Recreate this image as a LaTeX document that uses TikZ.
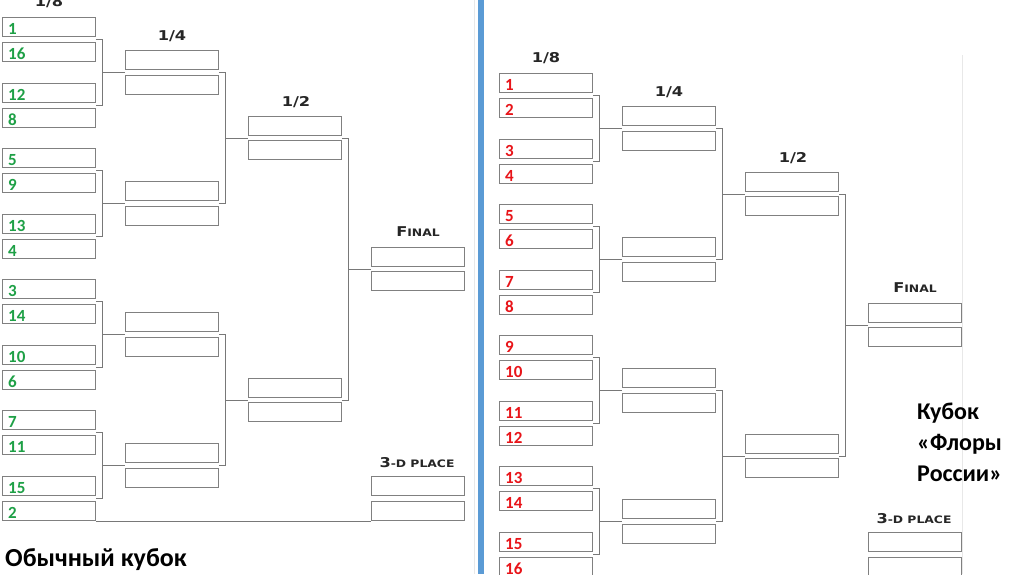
\documentclass[tikz,border=0pt]{standalone}
\usepackage{fontspec}
\usepackage{graphicx}
\setmainfont{Carlito}
\newfontfamily\lblfont{DejaVu Sans}
\usetikzlibrary{calc}
\definecolor{boxgray}{RGB}{128,128,128}
\definecolor{linegray}{RGB}{120,120,120}
\definecolor{numgreen}{RGB}{30,160,70}
\definecolor{numred}{RGB}{232,20,25}
\definecolor{sepblue}{RGB}{91,155,213}
\definecolor{edgegray}{RGB}{232,232,232}
\newcommand\Lbig[1]{{\fontsize{13.5}{13.5}\selectfont #1}}
\newcommand\Lsm[1]{{\fontsize{10.3}{10.3}\selectfont #1}}
\tikzset{
  box/.style={draw=boxgray, line width=1.3pt, minimum width=93pt, minimum height=19pt, inner sep=0pt, anchor=north west, fill=white},
  conn/.style={draw=linegray, line width=1.1pt},
  gnum/.style={font=\fontsize{17}{17}\selectfont\bfseries, text=numgreen, anchor=base west, inner sep=0pt},
  rnum/.style={font=\fontsize{17}{17}\selectfont\bfseries, text=numred, anchor=base west, inner sep=0pt},
  lbl/.style={font=\lblfont\bfseries, text=black!85, inner sep=0pt},
  title/.style={font=\fontsize{26}{31}\selectfont\bfseries, text=black, inner sep=0pt, anchor=base west},
  rtitle/.style={font=\fontsize{24}{31}\selectfont\bfseries, text=black, inner sep=0pt, anchor=base west, align=left}
}
\newcommand\drawside[5]{%
  % 1/8 boxes
  \foreach \n [count=\i from 0] in {#4} {
    \pgfmathtruncatemacro\g{int(\i/4)}
    \pgfmathtruncatemacro\k{mod(\i,4)}
    \pgfmathsetmacro\yy{17+131*\g+{0,25,66,91}[\k]+#3}
    \node[box] (#1B\i) at (2+#2,\yy) {};
    \node[#5] (#1N\i) at ([xshift=6pt,yshift=3pt]#1B\i.south west) {\n};
  }
  % 1/4 boxes
  \foreach \g in {0,...,3} {
    \pgfmathsetmacro\yy{17+131*\g+33+#3}
    \node[box] (#1Qa\g) at (125+#2,\yy) {};
    \node[box] (#1Qb\g) at (125+#2,\yy+25) {};
  }
  % 1/2 boxes
  \foreach \h in {0,1} {
    \pgfmathsetmacro\yy{116+262*\h+#3}
    \node[box] (#1Ha\h) at (248+#2,\yy) {};
    \node[box] (#1Hb\h) at (248+#2,\yy+24) {};
  }
  % final and third place
  \node[box] (#1Fa) at (371+#2,247+#3) {};
  \node[box] (#1Fb) at (371+#2,271+#3) {};
  \node[box] (#1Ta) at (371+#2,476+#3) {};
  \node[box] (#1Tb) at (371+#2,501+#3) {};
  % round 1 connectors
  \foreach \g in {0,...,3} {
    \pgfmathtruncatemacro\ja{4*\g}
    \pgfmathtruncatemacro\jb{4*\g+1}
    \pgfmathtruncatemacro\jc{4*\g+2}
    \pgfmathtruncatemacro\jd{4*\g+3}
    \coordinate (#1s\g) at ($(#1B\ja.south east)!0.5!(#1B\jb.north east)$);
    \coordinate (#1e\g) at ($(#1B\jc.south east)!0.5!(#1B\jd.north east)$);
    \coordinate (#1m\g) at ($(#1Qa\g.south west)!0.5!(#1Qb\g.north west)$);
    \draw[conn] (#1s\g) -- ++(6,0) coordinate (#1v\g) |- (#1e\g);
    \draw[conn] (#1v\g |- #1m\g) -- (#1m\g);
  }
  % round 2 connectors
  \foreach \h in {0,1} {
    \pgfmathtruncatemacro\qa{2*\h}
    \pgfmathtruncatemacro\qb{2*\h+1}
    \coordinate (#1r\h) at ($(#1Qa\qa.south east)!0.5!(#1Qb\qa.north east)$);
    \coordinate (#1t\h) at ($(#1Qa\qb.south east)!0.5!(#1Qb\qb.north east)$);
    \coordinate (#1n\h) at ($(#1Ha\h.south west)!0.5!(#1Hb\h.north west)$);
    \draw[conn] (#1r\h) -- ++(6,0) coordinate (#1w\h) |- (#1t\h);
    \draw[conn] (#1w\h |- #1n\h) -- (#1n\h);
  }
  % round 3 connector
  \coordinate (#1x) at ($(#1Ha0.south east)!0.5!(#1Hb0.north east)$);
  \coordinate (#1y) at ($(#1Ha1.south east)!0.5!(#1Hb1.north east)$);
  \coordinate (#1z) at ($(#1Fa.south west)!0.5!(#1Fb.north west)$);
  \draw[conn] (#1x) -- ++(6,0) coordinate (#1u) |- (#1y);
  \draw[conn] (#1u |- #1z) -- (#1z);
  % round labels
  \node[lbl] (#1l8) at (49+#2,2+#3) {\scalebox{1.2}[1]{\Lbig{1/8}}};
  \node[lbl] (#1l4) at (172+#2,36.5+#3) {\scalebox{1.2}[1]{\Lbig{1/4}}};
  \node[lbl] (#1l2) at (296+#2,102+#3) {\scalebox{1.2}[1]{\Lbig{1/2}}};
  \node[lbl] (#1lf) at (418+#2,232+#3) {\scalebox{1.2}[1]{\Lbig{F}\Lsm{INAL}}};
  \node[lbl] (#1lt) at (417+#2,463+#3) {\scalebox{1.2}[1]{\Lbig{3}\Lsm{-D PLACE}}};
}
\begin{document}
\begin{tikzpicture}[x=1pt,y=-1pt]
  \useasboundingbox (0,0) rectangle (1024,574);
  \fill[white] (0,0) rectangle (1024,574);
  \draw[edgegray, line width=1pt] (474,0) -- (474,574);
  \draw[edgegray, line width=1pt] (962,55) -- (962,574);
  \draw[sepblue, line width=6pt] (480.5,0) -- (480.5,574);
  \drawside{L}{0}{0}{1,16,12,8,5,9,13,4,3,14,10,6,7,11,15,2}{gnum}
  \drawside{R}{497}{56}{1,2,3,4,5,6,7,8,9,10,11,12,13,14,15,16}{rnum}
  \draw[conn] (LB15.south east) -- (LTb.south west);
  \node[title] (ltitle) at (5,566) {Обычный кубок};
  \node[rtitle] (rtitle) at (917,481) {Кубок\\«Флоры\\России»};
\end{tikzpicture}
\end{document}
